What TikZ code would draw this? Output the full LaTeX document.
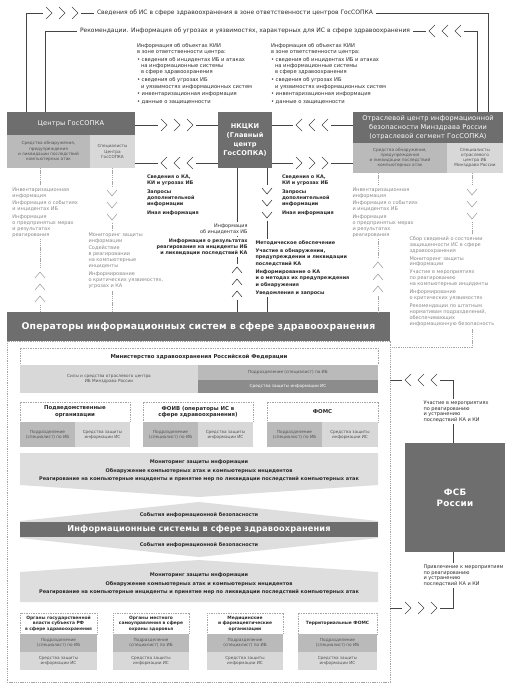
\documentclass[tikz,border=0pt]{standalone}
\usepackage{fontspec}
\usepackage{graphicx}
\setmainfont{DejaVu Sans}
\definecolor{dk}{HTML}{6E6E6E}
\definecolor{dk2}{HTML}{8C8C8C}
\definecolor{mid}{HTML}{BABABA}
\definecolor{lt}{HTML}{D8D8D8}
\definecolor{vlt}{HTML}{DEDEDE}
\definecolor{ln}{HTML}{454545}
\definecolor{gln}{HTML}{A5A5A5}
\definecolor{gtx}{HTML}{888888}
\definecolor{tx}{HTML}{2B2B2B}
\definecolor{bxt}{HTML}{505050}
\newcommand\ftiny{\fontsize{4.2}{5.2}\selectfont}
\newcommand\fcol{\fontsize{5}{5.9}\selectfont}
\newcommand\ftop{\fontsize{5.2}{6.3}\selectfont}
\newcommand\fline{\fontsize{6}{7}\selectfont}
\newcommand\fbold{\fontsize{4.9}{6.3}\selectfont\bfseries}
\newcommand\fhdr{\fontsize{6.6}{8.8}\selectfont\addfontfeatures{LetterSpace=2}}
\newcommand\fband{\fontsize{5}{8.6}\selectfont\bfseries}
\newcommand\fbtitle{\fontsize{5.4}{6.9}\selectfont\bfseries}
\newcommand\fsmt{\fontsize{4.4}{5.6}\selectfont\bfseries}
\newcommand\fops{\fontsize{9.3}{12}\selectfont\bfseries\addfontfeatures{LetterSpace=2}}
\newcommand\fis{\fontsize{8.2}{10}\selectfont\bfseries\addfontfeatures{LetterSpace=2}}
\newcommand\ffsb{\fontsize{8.8}{11}\selectfont\bfseries\addfontfeatures{LetterSpace=3}}
\newcommand\bx[7]{\node[#6,minimum width={(#4)-(#2)},minimum height={(#5)-(#3)}] (#1) at (#2,#3) {#7};}
\newcommand\chR[3][ln]{%
  \fill[white] ({#2-19},{#3-7}) rectangle ({#2+19},{#3+7});
  \foreach \cx in {-13,0,13}{\draw[draw=#1,line width=0.6pt] ({#2+\cx-3},{#3-6}) -- ({#2+\cx+3},{#3}) -- ({#2+\cx-3},{#3+6});}}
\newcommand\chL[3][ln]{%
  \fill[white] ({#2-19},{#3-7}) rectangle ({#2+19},{#3+7});
  \foreach \cx in {-13,0,13}{\draw[draw=#1,line width=0.6pt] ({#2+\cx+3},{#3-6}) -- ({#2+\cx-3},{#3}) -- ({#2+\cx+3},{#3+6});}}
\newcommand\chD[3][ln]{%
  \fill[white] ({#2-7},{#3-18}) rectangle ({#2+7},{#3+18});
  \foreach \cy in {-12,0,12}{\draw[draw=#1,line width=0.6pt] ({#2-5},{#3+\cy-3}) -- ({#2},{#3+\cy+3}) -- ({#2+5},{#3+\cy-3});}}
\newcommand\chU[3][ln]{%
  \fill[white] ({#2-7},{#3-18}) rectangle ({#2+7},{#3+18});
  \foreach \cy in {-12,0,12}{\draw[draw=#1,line width=0.6pt] ({#2-5},{#3+\cy+3}) -- ({#2},{#3+\cy-3}) -- ({#2+5},{#3+\cy+3});}}
\begin{document}
\begin{tikzpicture}[x=1pt,y=-1pt,
  every node/.style={inner sep=0pt,outer sep=0pt},
  conn/.style={draw=ln,line width=0.6pt},
  gconn/.style={draw=gln,line width=0.55pt,dash pattern=on 1.3pt off 0.9pt},
  rect/.style={anchor=north west,align=center},
  hdr/.style={rect,fill=dk,text=white},
  wbox/.style={rect,fill=white,draw=gln,line width=0.4pt,dash pattern=on 1pt off 0.7pt,text=tx},
  sub/.style={rect,text=bxt,font=\ftiny},
  blk/.style={anchor=north west,align=left,fill=white,inner sep=1.5pt}]
\fill[white] (0,0) rectangle (512,690);
\useasboundingbox (0,0) rectangle (512,690);

% ---------- coordinates
\coordinate (t1L) at (26,13); \coordinate (t1R) at (488,13);
\coordinate (t2L) at (45,31); \coordinate (t2R) at (477,31);
\coordinate (r1) at (0,125); \coordinate (r2) at (0,163);
\coordinate (cL1) at (40,0); \coordinate (cL2) at (112,0);
\coordinate (cM1) at (237,0); \coordinate (cM2) at (267,0);
\coordinate (cR1) at (378,0); \coordinate (cR2) at (472,0);
\coordinate (rc) at (0,347);
\coordinate (fc) at (453,380); \coordinate (fc2) at (453,608);

% ---------- top boxes
\bx{cgs}{7}{112}{135}{135}{hdr,font=\fhdr}{Центры ГосСОПКА}
\bx{cgsA}{7}{135}{90}{168}{sub,fill=mid}{Средства обнаружения,\\предупреждения\\и ликвидации последствий\\компьютерных атак}
\bx{cgsB}{90}{135}{135}{168}{sub,fill=lt}{Специалисты\\Центра\\ГосСОПКА}
\bx{nk}{218}{112}{272}{168}{hdr,font=\fhdr\bfseries}{НКЦКИ\\(Главный\\центр\\ГосСОПКА)}
\bx{oc}{353}{112}{503}{143}{hdr,font=\fhdr}{Отраслевой центр информационной\\безопасности Минздрава России\\(отраслевой сегмент ГосСОПКА)}
\bx{ocA}{353}{143}{447}{173}{sub,fill=mid}{Средства обнаружения,\\предупреждения\\и ликвидации последствий\\компьютерных атак}
\bx{ocB}{447}{143}{503}{173}{sub,fill=lt}{Специалисты\\отраслевого\\центра ИБ\\Минздрава России}

% ---------- top loops
\draw[conn] (t1L |- cgs.north) -- (t1L) -- (t1R) -- (t1R |- oc.north);
\draw[conn] (t2L |- cgs.north) -- (t2L) -- (t2R) -- (t2R |- oc.north);
\node[fill=white,inner xsep=3pt,inner ysep=1pt,text=tx,anchor=west] (t1x) at (94,13) {\resizebox{276pt}{!}{\fline Сведения об ИС в сфере здравоохранения в зоне ответственности центров ГосСОПКА}};
\node[fill=white,inner xsep=3pt,inner ysep=1pt,text=tx,anchor=west] (t2x) at (77,31) {\resizebox{330pt}{!}{\fline Рекомендации. Информация об угрозах и уязвимостях, характерных для ИС в сфере здравоохранения}};
\chR{62}{13}
\chL{445}{31}

\node[anchor=north west,align=left,font=\ftop,text=tx] (infL) at (137,43) {Информация об объектах КИИ\\в зоне ответственности центра:\\[1.6pt]• сведения об инцидентах ИБ и атаках\\\hspace*{4pt}на информационные системы\\\hspace*{4pt}в сфере здравоохранения\\[1.6pt]• сведения об угрозах ИБ\\\hspace*{4pt}и уязвимостях информационных систем\\[1.6pt]• инвентаризационная информация\\[1.6pt]• данные о защищенности};
\node[anchor=north west,align=left,font=\ftop,text=tx] (infR) at (271,43) {Информация об объектах КИИ\\в зоне ответственности центра:\\[1.6pt]• сведения об инцидентах ИБ и атаках\\\hspace*{4pt}на информационные системы\\\hspace*{4pt}в сфере здравоохранения\\[1.6pt]• сведения об угрозах ИБ\\\hspace*{4pt}и уязвимостях информационных систем\\[1.6pt]• инвентаризационная информация\\[1.6pt]• данные о защищенности};

% ---------- horizontal arrows
\draw[conn] (cgs.east |- r1) -- (nk.west |- r1);
\draw[conn] (cgsB.east |- r2) -- (nk.west |- r2);
\draw[conn] (nk.east |- r1) -- (oc.west |- r1);
\draw[conn] (nk.east |- r2) -- (ocA.west |- r2);
\chR{177}{125} \chL{177}{163} \chL{312}{125} \chR{312}{163}

\node[anchor=north west,align=left,font=\fbold,text=tx] (sL) at (147,175) {Сведения о КА,\\КИ и угрозах ИБ\\[2pt]Запросы\\дополнительной\\информации\\[2pt]Иная информация};
\node[anchor=north west,align=left,font=\fbold,text=tx] (sR) at (282,175) {Сведения о КА,\\КИ и угрозах ИБ\\[2pt]Запросы\\дополнительной\\информации\\[2pt]Иная информация};

% ---------- operators bar
\bx{ops}{7}{312}{390}{341}{hdr,font=\fops}{Операторы информационных систем в сфере здравоохранения}
\node[draw=gln,line width=0.5pt,dash pattern=on 1.3pt off 0.9pt,anchor=north west,minimum width=383,minimum height=341] (opsbox) at (7,341) {};

% ---------- vertical columns
\draw[gconn] (cL1 |- cgsA.south) -- (cL1 |- ops.north);
\draw[gconn] (cL2 |- cgsB.south) -- (cL2 |- ops.north);
\draw[conn] (cM1 |- nk.south) -- (cM1 |- ops.north);
\draw[conn] (cM2 |- nk.south) -- (cM2 |- ops.north);
\draw[gconn] (cR1 |- ocA.south) -- (cR1 |- ops.north);
\draw[gconn] (cR2 |- ocB.south) -- (cR2 |- rc) -- (rc -| opsbox.east);

\node[blk,font=\fcol,text=gtx] (tL1) at (11,186) {Инвентаризационная\\информация\\[2pt]Информация о событиях\\и инцидентах ИБ\\[2pt]Информация\\о предпринятых мерах\\и результатах\\реагирования};
\chU[gln]{40}{287}
\chD[gln]{112}{205}
\node[blk,font=\fcol,text=gtx] (tL2) at (87,231) {Мониторинг защиты\\информации\\[2pt]Содействие\\в реагировании\\на компьютерные\\инциденты\\[2pt]Информирование\\о критических уязвимостях,\\угрозах и КА};

\node[anchor=north east,align=right,fill=white,inner sep=1.5pt,font=\fontsize{4.9}{6.3}\selectfont,text=tx] (tM1a) at (249,222) {Информация\\об инцидентах ИБ};
\node[anchor=north east,align=right,fill=white,inner sep=1.5pt,font=\fbold,text=tx] (tM1b) at (249,237) {Информация о результатах\\реагирования на инциденты ИБ\\и ликвидации последствий КА};
\chU{237}{282}
\chD{267}{203}
\node[blk,font=\fbold,text=tx] (tM2) at (254,239) {Методическое обеспечение\\[2pt]Участие в обнаружении,\\предупреждении и ликвидации\\последствий КА\\[2pt]Информирование о КА\\и о методах их предупреждения\\и обнаружения\\[2pt]Уведомления и запросы};

\node[blk,font=\fcol,text=gtx] (tR1) at (351,186) {Инвентаризационная\\информация\\[2pt]Информация о событиях\\и инцидентах ИБ\\[2pt]Информация\\о предпринятых мерах\\и результатах\\реагирования};
\chU[gln]{378}{277}
\chD[gln]{472}{204}
\node[blk,font=\fcol,text=gtx] (tR2) at (408,235) {Сбор сведений о состоянии\\защищенности ИС в сфере\\здравоохранения\\[2pt]Мониторинг защиты\\информации\\[2pt]Участие в мероприятиях\\по реагированию\\на компьютерные инциденты\\[2pt]Информирование\\о критических уязвимостях\\[2pt]Рекомендации по штатным\\нормативам подразделений,\\обеспечивающих\\информационную безопасность};

% ---------- ministry
\bx{mzT}{20}{348}{378}{365}{wbox,font=\fbtitle}{Министерство здравоохранения Российской Федерации}
\bx{mzA}{20}{365}{198}{393}{sub,fill=lt}{Силы и средства отраслевого центра\\ИБ Минздрава России}
\bx{mzB}{198}{365}{378}{380}{sub,fill=mid}{Подразделение (специалист) по ИБ}
\bx{mzC}{198}{380}{378}{393}{sub,fill=dk2,text=white}{Средства защиты информации ИС}

% ---------- three boxes
\bx{p1T}{20}{402}{130}{422}{wbox,font=\fbtitle}{Подведомственные\\организации}
\bx{p1A}{20}{422}{75}{447}{sub,fill=mid}{Подразделение\\(специалист) по ИБ}
\bx{p1B}{75}{422}{130}{447}{sub,fill=lt}{Средства защиты\\информации ИС}
\bx{p2T}{143}{402}{253}{422}{wbox,font=\fbtitle}{ФОИВ (операторы ИС в\\сфере здравоохранения)}
\bx{p2A}{143}{422}{198}{447}{sub,fill=mid}{Подразделение\\(специалист) по ИБ}
\bx{p2B}{198}{422}{253}{447}{sub,fill=lt}{Средства защиты\\информации ИС}
\bx{p3T}{267}{402}{378}{422}{wbox,font=\fbtitle}{ФОМС}
\bx{p3A}{267}{422}{322}{447}{sub,fill=mid}{Подразделение\\(специалист) по ИБ}
\bx{p3B}{322}{422}{378}{447}{sub,fill=lt}{Средства защиты\\информации ИС}

% ---------- bands
\fill[vlt] (20,453) -- (378,453) -- (378,485) -- (199,497) -- (20,485) -- cycle;
\node[align=center,font=\fband,text=tx] (mon1) at (199,471) {Мониторинг защиты информации\\Обнаружение компьютерных атак и компьютерных инцидентов\\Реагирование на компьютерные инциденты и принятие мер по ликвидации последствий компьютерных атак};
\fill[vlt] (199,502) -- (378,521) -- (378,538) -- (199,557) -- (20,538) -- (20,521) -- cycle;
\bx{isb}{20}{522}{378}{537}{hdr,font=\fis}{Информационные системы в сфере здравоохранения}
\node[font=\fband,text=tx] (ev1) at (199,515) {События информационной безопасности};
\node[font=\fband,text=tx] (ev2) at (199,545) {События информационной безопасности};
\fill[vlt] (199,560) -- (378,572) -- (378,602) -- (20,602) -- (20,572) -- cycle;
\node[align=center,font=\fband,text=tx] (mon2) at (199,584) {Мониторинг защиты информации\\Обнаружение компьютерных атак и компьютерных инцидентов\\Реагирование на компьютерные инциденты и принятие мер по ликвидации последствий компьютерных атак};

% ---------- bottom boxes
\bx{b1T}{20}{613}{97}{634}{wbox,font=\fsmt}{Органы государственной\\власти субъекта РФ\\в сфере здравоохранения}
\bx{b1A}{20}{634}{97}{652}{sub,fill=mid}{Подразделение\\(специалист) по ИБ}
\bx{b1B}{20}{652}{97}{670}{sub,fill=lt}{Средства защиты\\информации ИС}
\bx{b2T}{113}{613}{189}{634}{wbox,font=\fsmt}{Органы местного\\самоуправления в сфере\\охраны здоровья}
\bx{b2A}{113}{634}{189}{652}{sub,fill=mid}{Подразделение\\(специалист) по ИБ}
\bx{b2B}{113}{652}{189}{670}{sub,fill=lt}{Средства защиты\\информации ИС}
\bx{b3T}{207}{613}{283}{634}{wbox,font=\fsmt}{Медицинские\\и фармацевтические\\организации}
\bx{b3A}{207}{634}{283}{652}{sub,fill=mid}{Подразделение\\(специалист) по ИБ}
\bx{b3B}{207}{652}{283}{670}{sub,fill=lt}{Средства защиты\\информации ИС}
\bx{b4T}{298}{613}{377}{634}{wbox,font=\fsmt}{Территориальные ФОМС}
\bx{b4A}{298}{634}{377}{652}{sub,fill=mid}{Подразделение\\(специалист) по ИБ}
\bx{b4B}{298}{652}{377}{670}{sub,fill=lt}{Средства защиты\\информации ИС}

% ---------- FSB
\bx{fsb}{405}{443}{505}{552}{hdr,font=\ffsb}{ФСБ\\России}
\draw[conn] (opsbox.east |- fc) -- (fc) -- (fc |- fsb.north);
\draw[conn] (fsb.south -| fc2) -- (fc2) -- (fc2 -| opsbox.east);
\chL{421}{380}
\chR{421}{608}
\node[blk,font=\fcol,text=tx] (fs1) at (422,399) {Участие в мероприятиях\\по реагированию\\и устранению\\последствий КА и КИ};
\node[blk,font=\fcol,text=tx] (fs2) at (422,563) {Привлечение к мероприятиям\\по реагированию\\и устранению\\последствий КА и КИ};
\end{tikzpicture}
\end{document}
